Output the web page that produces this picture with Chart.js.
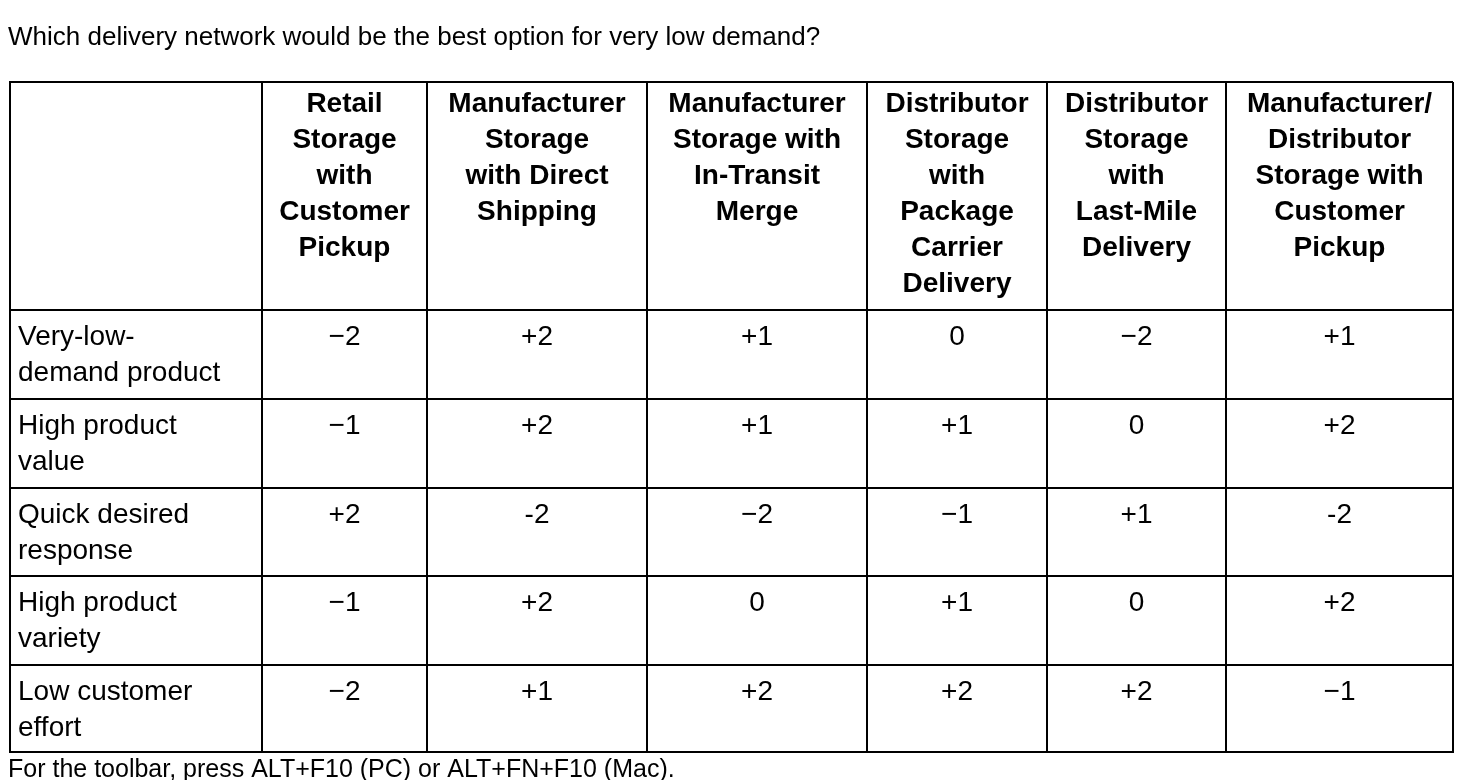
<!DOCTYPE html>
<html><head><meta charset="utf-8">
<script src="https://cdn.jsdelivr.net/npm/chart.js@4/dist/chart.umd.min.js"></script>
<style>html,body{margin:0;padding:0;background:#fff}#wrap{width:1480px;height:780px;position:relative}</style>
</head><body><div id="wrap"><canvas id="c"></canvas></div>
<script>
const titleText = "Which delivery network would be the best option for very low demand?";
const footerText = "For the toolbar, press ALT+F10 (PC) or ALT+FN+F10 (Mac).";
const columnHeaders = [
  ["Retail","Storage","with","Customer","Pickup"],
  ["Manufacturer","Storage","with Direct","Shipping"],
  ["Manufacturer","Storage with","In-Transit","Merge"],
  ["Distributor","Storage","with","Package","Carrier","Delivery"],
  ["Distributor","Storage","with","Last-Mile","Delivery"],
  ["Manufacturer/","Distributor","Storage with","Customer","Pickup"]
];
const rowLabels = [
  ["Very-low-","demand product"],
  ["High product","value"],
  ["Quick desired","response"],
  ["High product","variety"],
  ["Low customer","effort"]
];
const cellValues = [
  ["\u22122","+2","+1","0","\u22122","+1"],
  ["\u22121","+2","+1","+1","0","+2"],
  ["+2","-2","\u22122","\u22121","+1","-2"],
  ["\u22121","+2","0","+1","0","+2"],
  ["\u22122","+1","+2","+2","+2","\u22121"]
];
// layout
const colWidths = [252,165,220,220,180,179,227];
const rowHeights = [228,89,89,88,89,87];
const xB=[0]; colWidths.forEach(w=>xB.push(xB[xB.length-1]+w));
const yB=[0]; rowHeights.forEach(h=>yB.push(yB[yB.length-1]+h));

const pts=[];
for(let r=0;r<=rowLabels.length;r++){
  for(let c=0;c<=columnHeaders.length;c++){
    let lines;
    if(r===0&&c===0) lines=[];
    else if(r===0) lines=columnHeaders[c-1];
    else if(c===0) lines=rowLabels[r-1];
    else lines=[cellValues[r-1][c-1]];
    pts.push({x:(xB[c]+xB[c+1])/2,y:yB[r],lines,r,c});
  }
}
const FONT='"Liberation Sans", Arial, Helvetica, sans-serif';
const tablePlugin={id:'tbl',afterDatasetsDraw(chart){
  const ctx=chart.ctx, xs=chart.scales.x, ys=chart.scales.y;
  ctx.save(); ctx.fillStyle='#000'; ctx.textBaseline='middle';
  chart.data.datasets[0].data.forEach(p=>{
    const top=ys.getPixelForValue(p.y);
    const head=p.r===0;
    ctx.font=(head?'bold ':'')+'28px '+FONT;
    let x, off;
    if(p.c===0){ctx.textAlign='left';x=xs.getPixelForValue(xB[0])+8;}
    else {ctx.textAlign='center';x=xs.getPixelForValue(p.x);}
    off=head?22:27;
    p.lines.forEach((t,i)=>ctx.fillText(t,x,top+off+i*36));
  });
  ctx.textAlign='left';
  ctx.font='26px '+FONT; ctx.fillText(titleText,8,38);
  ctx.font='25px '+FONT; ctx.fillText(footerText,8,770);
  ctx.restore();
}};
const ticksFrom=arr=>function(s){s.ticks=arr.map(v=>({value:v}));};
new Chart(document.getElementById('c'),{
  type:'scatter',
  data:{datasets:[{data:pts,pointRadius:0,pointHoverRadius:0}]},
  options:{responsive:true,maintainAspectRatio:false,animation:false,
    events:[],
    layout:{padding:{left:10,top:82,right:27,bottom:28}},
    plugins:{legend:{display:false},tooltip:{enabled:false}},
    scales:{
      x:{type:'linear',min:0,max:xB[xB.length-1],afterBuildTicks:ticksFrom(xB),
        ticks:{display:false},grid:{color:'#000',lineWidth:2,drawTicks:false},border:{color:'#000',width:2}},
      y:{type:'linear',reverse:true,min:0,max:yB[yB.length-1],afterBuildTicks:ticksFrom(yB),
        ticks:{display:false},grid:{color:'#000',lineWidth:2,drawTicks:false},border:{color:'#000',width:2}}
    }},
  plugins:[tablePlugin]
});
</script></body></html>
